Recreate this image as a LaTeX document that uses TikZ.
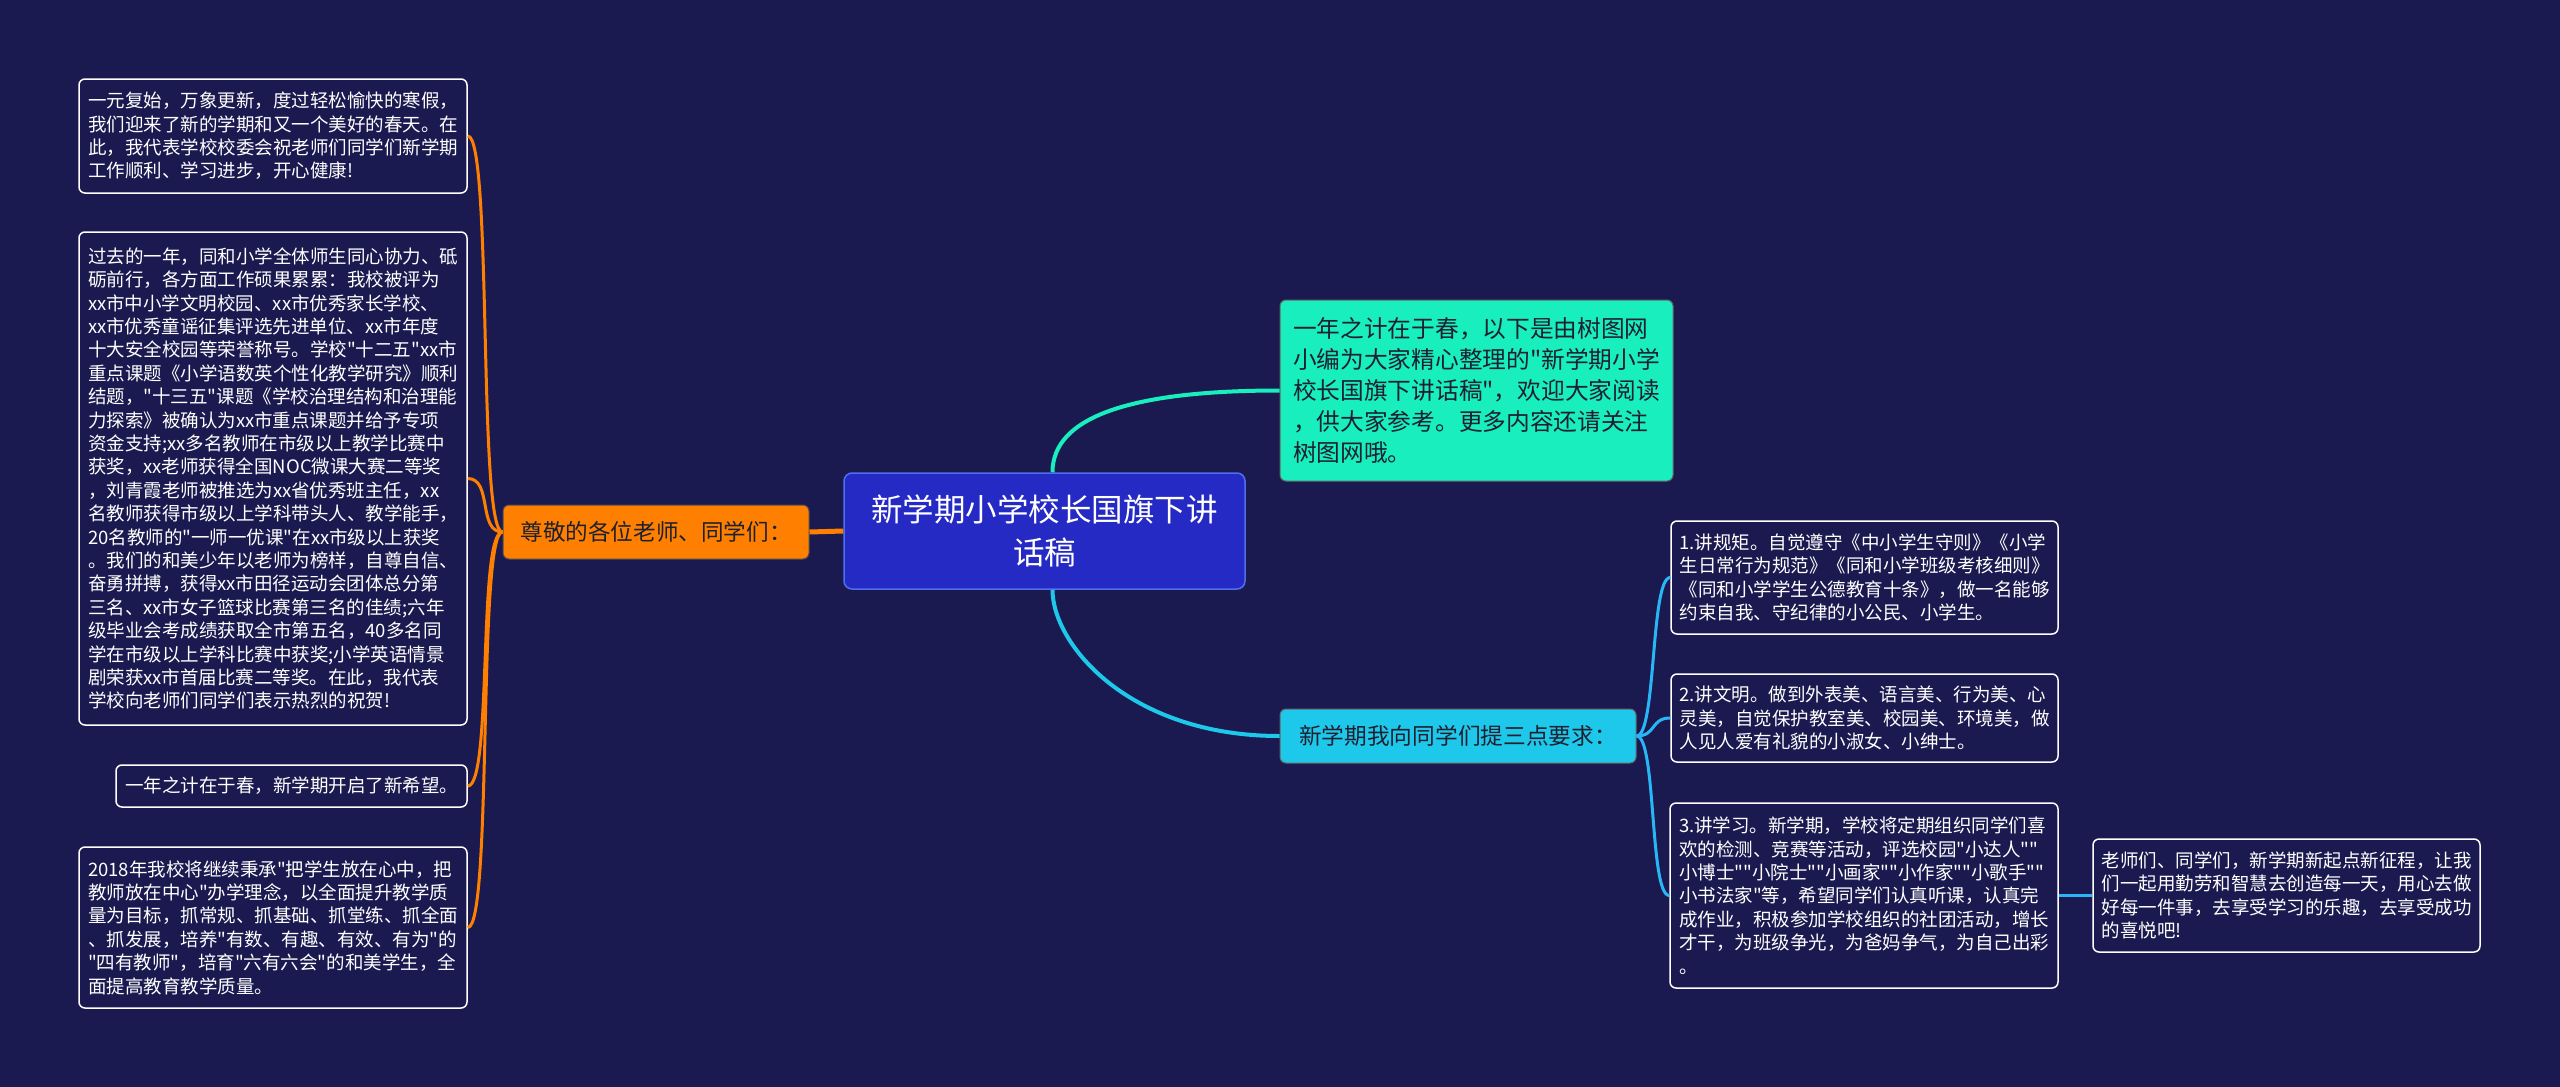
\documentclass[tikz,border=0pt]{standalone}
\usepackage{fontspec}
\newfontfamily\cjk{Noto Sans CJK SC}
\definecolor{bg}{RGB}{27,26,80}
\definecolor{rootfill}{RGB}{38,42,196}
\definecolor{rootdraw}{RGB}{80,110,240}
\definecolor{orng}{RGB}{255,128,0}
\definecolor{mint}{RGB}{24,238,190}
\definecolor{cyn}{RGB}{30,200,235}
\definecolor{sky}{RGB}{41,182,246}
\definecolor{darktext}{RGB}{30,32,48}
\begin{document}
\begin{tikzpicture}[x=1pt,y=-1pt,
  leaf/.style={draw=white, line width=1.5pt, fill=bg, rounded corners=6pt, text=white,
    align=left, inner sep=0pt, font=\cjk\fontsize{18.5}{23.4}\selectfont},
  rootbox/.style={draw=rootdraw, line width=1.5pt, fill=rootfill, rounded corners=8pt, text=white,
    align=center, inner sep=0pt, font=\cjk\fontsize{31.5}{43}\selectfont},
  orangebox/.style={draw=black!70, line width=1pt, fill=orng, rounded corners=6pt, text=darktext,
    align=left, inner sep=0pt, font=\cjk\fontsize{22.6}{28}\selectfont},
  mintbox/.style={draw=black!60, line width=1pt, fill=mint, rounded corners=6pt, text=darktext,
    align=left, inner sep=0pt, font=\cjk\fontsize{23.7}{31}\selectfont},
  cyanbox/.style={draw=black!60, line width=1pt, fill=cyn, rounded corners=6pt, text=darktext,
    align=left, inner sep=0pt, font=\cjk\fontsize{22.7}{28}\selectfont},
  oline/.style={draw=orng, line width=3pt},
  mline/.style={draw=mint, line width=4pt},
  cline/.style={draw=cyn, line width=4pt},
  sline/.style={draw=sky, line width=3pt}
]
\fill[bg] (0,0) rectangle (2560,1087);
\useasboundingbox (0,0) rectangle (2560,1087);

% connectors first (behind nodes)
\coordinate (dummy) at (0,0);

% root
\node[rootbox, minimum width=401, minimum height=116] (root) at (1044.5,531) {新学期小学校长国旗下讲\\话稿};

% main branches
\node[orangebox, minimum width=306, minimum height=54] (greet) at (656,532) {尊敬的各位老师、同学们：};
\node[mintbox, minimum width=393, minimum height=181] (intro) at (1476.5,390.5) {一年之计在于春，以下是由树图网\\小编为大家精心整理的"新学期小学\\校长国旗下讲话稿"，欢迎大家阅读\\，供大家参考。更多内容还请关注\\树图网哦。};
\node[cyanbox, minimum width=356, minimum height=54] (req) at (1458,736) {新学期我向同学们提三点要求：};

% left leaves
\node[leaf, minimum width=388, minimum height=114] (l1) at (273,136) {一元复始，万象更新，度过轻松愉快的寒假，\\我们迎来了新的学期和又一个美好的春天。在\\此，我代表学校校委会祝老师们同学们新学期\\工作顺利、学习进步，开心健康!};
\node[leaf, minimum width=388, minimum height=493] (l2) at (273,478.5) {过去的一年，同和小学全体师生同心协力、砥\\砺前行，各方面工作硕果累累：我校被评为\\xx市中小学文明校园、xx市优秀家长学校、\\xx市优秀童谣征集评选先进单位、xx市年度\\十大安全校园等荣誉称号。学校"十二五"xx市\\重点课题《小学语数英个性化教学研究》顺利\\结题，"十三五"课题《学校治理结构和治理能\\力探索》被确认为xx市重点课题并给予专项\\资金支持;xx多名教师在市级以上教学比赛中\\获奖，xx老师获得全国NOC微课大赛二等奖\\，刘青霞老师被推选为xx省优秀班主任，xx\\名教师获得市级以上学科带头人、教学能手，\\20名教师的"一师一优课"在xx市级以上获奖\\。我们的和美少年以老师为榜样，自尊自信、\\奋勇拼搏，获得xx市田径运动会团体总分第\\三名、xx市女子篮球比赛第三名的佳绩;六年\\级毕业会考成绩获取全市第五名，40多名同\\学在市级以上学科比赛中获奖;小学英语情景\\剧荣获xx市首届比赛二等奖。在此，我代表\\学校向老师们同学们表示热烈的祝贺!};
\node[leaf, minimum width=351, minimum height=42] (l3) at (291.5,786) {一年之计在于春，新学期开启了新希望。};
\node[leaf, minimum width=388, minimum height=161] (l4) at (273,927.5) {2018年我校将继续秉承"把学生放在心中，把\\教师放在中心"办学理念，以全面提升教学质\\量为目标，抓常规、抓基础、抓堂练、抓全面\\、抓发展，培养"有数、有趣、有效、有为"的\\"四有教师"，培育"六有六会"的和美学生，全\\面提高教育教学质量。};

% right leaves
\node[leaf, minimum width=387, minimum height=113] (r1) at (1864.5,577.5) {1.讲规矩。自觉遵守《中小学生守则》《小学\\生日常行为规范》《同和小学班级考核细则》\\《同和小学学生公德教育十条》，做一名能够\\约束自我、守纪律的小公民、小学生。};
\node[leaf, minimum width=387, minimum height=88] (r2) at (1864.5,718) {2.讲文明。做到外表美、语言美、行为美、心\\灵美，自觉保护教室美、校园美、环境美，做\\人见人爱有礼貌的小淑女、小绅士。};
\node[leaf, minimum width=388, minimum height=185] (r3) at (1864,895.5) {3.讲学习。新学期，学校将定期组织同学们喜\\欢的检测、竞赛等活动，评选校园"小达人""\\小博士""小院士""小画家""小作家""小歌手""\\小书法家"等，希望同学们认真听课，认真完\\成作业，积极参加学校组织的社团活动，增长\\才干，为班级争光，为爸妈争气，为自己出彩\\。};
\node[leaf, minimum width=387, minimum height=113] (r4) at (2286.5,895.5) {老师们、同学们，新学期新起点新征程，让我\\们一起用勤劳和智慧去创造每一天，用心去做\\好每一件事，去享受学习的乐趣，去享受成功\\的喜悦吧!};

% connectors
\draw[oline, line width=5pt] (root.west) -- (greet.east);
\draw[oline] (greet.west) .. controls +(-25,0) and +(25,0) .. (l1.east);
\draw[oline] (greet.west) .. controls +(-25,0) and +(25,0) .. (l2.east);
\draw[oline] (greet.west) .. controls +(-25,0) and +(25,0) .. (l3.east);
\draw[oline] (greet.west) .. controls +(-25,0) and +(25,0) .. (l4.east);
\draw[mline] ([xshift=8pt]root.north) .. controls +(0,-55) and +(-150,0) .. (intro.west);
\draw[cline] ([xshift=8pt]root.south) .. controls +(0,55) and +(-150,0) .. (req.west);
\draw[sline] (req.east) .. controls +(20,0) and +(-20,0) .. (r1.west);
\draw[sline] (req.east) .. controls +(20,0) and +(-20,0) .. (r2.west);
\draw[sline] (req.east) .. controls +(20,0) and +(-20,0) .. (r3.west);
\draw[sline] (r3.east) -- (r4.west);
\end{tikzpicture}
\end{document}
